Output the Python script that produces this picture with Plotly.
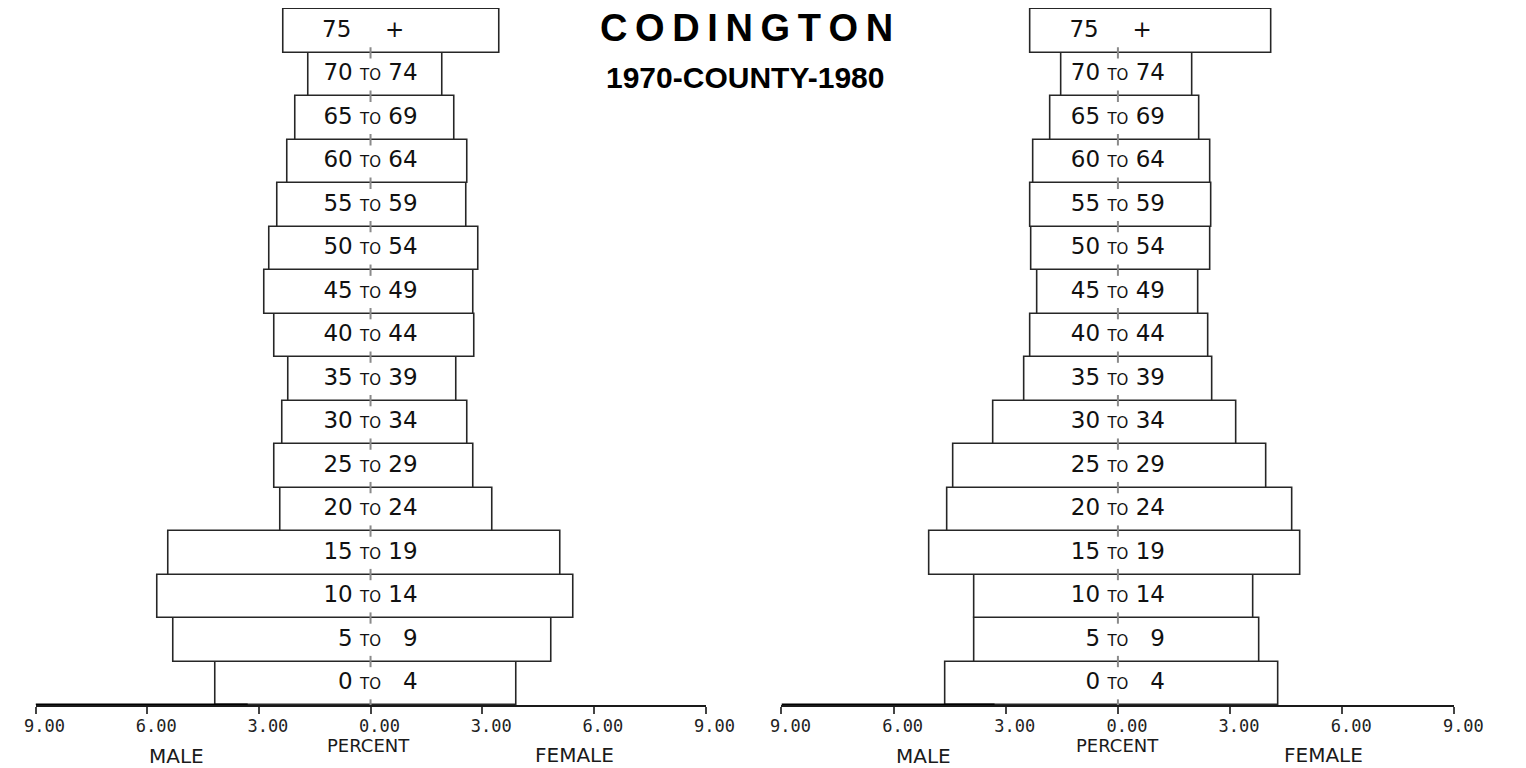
import plotly.graph_objects as go

# ---- data (percent of county population) ----
age_groups = ["0 TO 4", "5 TO 9", "10 TO 14", "15 TO 19", "20 TO 24", "25 TO 29",
              "30 TO 34", "35 TO 39", "40 TO 44", "45 TO 49", "50 TO 54", "55 TO 59",
              "60 TO 64", "65 TO 69", "70 TO 74", "75 +"]
male_1970 = [4.16, 5.29, 5.71, 5.43, 2.41, 2.59, 2.36, 2.20, 2.57, 2.85, 2.71, 2.49,
             2.22, 2.02, 1.67, 2.33]
female_1970 = [3.93, 4.85, 5.45, 5.11, 3.28, 2.76, 2.60, 2.32, 2.80, 2.78, 2.89, 2.58,
               2.60, 2.25, 1.94, 3.47]
male_1980 = [4.61, 3.85, 3.85, 5.04, 4.55, 4.41, 3.33, 2.50, 2.34, 2.14, 2.32, 2.35,
             2.25, 1.80, 1.51, 2.35]
female_1980 = [4.30, 3.78, 3.62, 4.88, 4.68, 3.97, 3.16, 2.53, 2.42, 2.16, 2.47, 2.51,
               2.47, 2.18, 2.00, 4.11]
tick_values = [-9, -6, -3, 0, 3, 6, 9]
tick_labels = ["9.00", "6.00", "3.00", "0.00", "3.00", "6.00", "9.00"]
title_text = "CODINGTON"
subtitle_text = "1970-COUNTY-1980"

W, H = 1526, 768
OFF = 8  # the page body adds an 8px margin; positions below are screen positions


def px(x):
    return (x - OFF) / W


def py(y):
    return 1 - (y - OFF) / H


FS = "\u2007"  # figure space (digit width)


def fmt_label(g):
    small = "<span style='font-size:15px'>%s</span>"
    if "+" in g:
        lo = g.split()[0]
        return lo + " " + small % "\u00a0\u00a0\u00a0\u00a0" + " +" + FS
    lo, hi = g.split(" TO ")
    return lo.rjust(2, FS) + " " + small % "TO" + " " + hi.rjust(2, FS)


labels = [fmt_label(g) for g in age_groups]
idx = list(range(len(age_groups)))

fig = go.Figure()

panels = [(male_1970, female_1970, "x", "y"), (male_1980, female_1980, "x2", "y2")]
for male, female, xa, ya in panels:
    fig.add_trace(go.Bar(
        y=idx, x=[m + f for m, f in zip(male, female)], base=[-m for m in male],
        orientation="h", xaxis=xa, yaxis=ya,
        marker=dict(color="white", line=dict(color="#262626", width=1.6)),
        width=1.0, hoverinfo="skip", showlegend=False))
    # small centre marks at every bar boundary
    mx, my = [], []
    for b in idx:
        mx += [0, 0, None]
        my += [b - 0.5 - 0.13, b - 0.5 + 0.13, None]
    fig.add_trace(go.Scatter(x=mx, y=my, mode="lines", xaxis=xa, yaxis=ya,
                             line=dict(color="#8a8a8a", width=2),
                             hoverinfo="skip", showlegend=False, cliponaxis=False))
    fig.add_trace(go.Scatter(
        x=[0] * len(idx), y=idx, mode="text", text=labels, xaxis=xa, yaxis=ya,
        textposition="middle center",
        textfont=dict(family="DejaVu Sans", size=23, color="#111111"),
        hoverinfo="skip", showlegend=False))
    # heavier stroke on the male half of the baseline (as printed)
    fig.add_shape(type="line", x0=-9, x1=-3.3, y0=-0.5, y1=-0.5,
                  xref=xa, yref=ya, line=dict(color="#000", width=3))

axis_common = dict(range=[-9, 9], tickvals=tick_values, ticktext=tick_labels,
                   showline=True, linecolor="#1a1a1a", linewidth=2,
                   ticks="outside", ticklen=7, tickwidth=2, tickcolor="#444",
                   ticklabelshift=9, ticklabelstandoff=-2,
                   showgrid=False, zeroline=False, fixedrange=True,
                   tickfont=dict(family="DejaVu Sans Mono", size=17, color="#222"))
ydom = [py(705), py(OFF)]
yaxis_common = dict(range=[-0.5, 15.53], visible=False, fixedrange=True, domain=ydom)

fig.update_layout(
    width=W, height=H, margin=dict(l=0, r=0, t=0, b=0),
    paper_bgcolor="white", plot_bgcolor="white",
    barmode="overlay", bargap=0,
    xaxis=dict(domain=[px(25), px(713)], anchor="y", **axis_common),
    xaxis2=dict(domain=[px(791), px(1482)], anchor="y2", **axis_common),
    yaxis=dict(anchor="x", **yaxis_common),
    yaxis2=dict(anchor="x2", **yaxis_common),
)

annots = [
    (170, 756, "MALE", 20), (367, 745, "PERCENT", 18), (578, 755, "FEMALE", 20),
    (937, 756, "MALE", 20), (1136, 745, "PERCENT", 18), (1348, 755, "FEMALE", 20),
]
for ax_, ay_, t, fs in annots:
    fig.add_annotation(x=px(ax_), y=py(ay_), xref="paper", yref="paper", text=t,
                       showarrow=False,
                       font=dict(family="DejaVu Sans", size=fs, color="#1a1a1a"),
                       xanchor="center", yanchor="middle")

fig.add_annotation(x=px(755), y=py(28), xref="paper", yref="paper",
                   text="<b>%s</b>" % "\u2009".join(title_text), showarrow=False,
                   font=dict(family="Liberation Sans", size=38, color="#000"),
                   xanchor="center", yanchor="middle")
fig.add_annotation(x=px(754), y=py(77), xref="paper", yref="paper",
                   text="<b>%s</b>" % subtitle_text, showarrow=False,
                   font=dict(family="Liberation Sans", size=30, color="#000"),
                   xanchor="center", yanchor="middle")

fig.write_html("out.html", config={"displayModeBar": False})
